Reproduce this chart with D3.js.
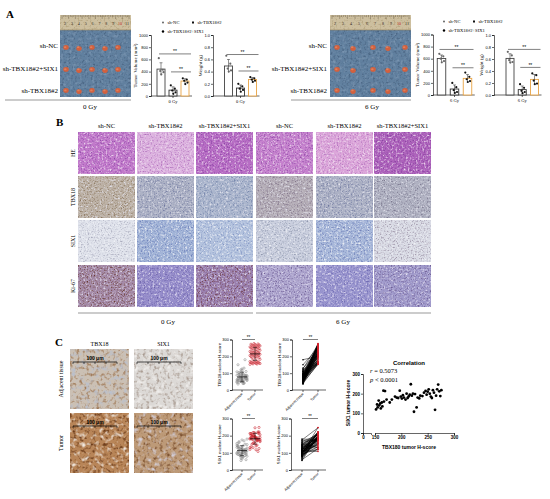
<!DOCTYPE html>
<html><head><meta charset="utf-8">
<script src="https://cdn.jsdelivr.net/npm/d3@7"></script>
<style>body{margin:0;background:#fff}svg{display:block}</style>
</head><body>
<svg id="fig" width="550" height="499"></svg>
<script>
// ---------------- DATA ----------------
const groups = ["sh-NC","sh-TBX18#2","sh-TBX18#2+SIX1"];
const doses = ["0 Gy","6 Gy"];
const volTicks = [0,200,400,600,800,1000];
const wtTicks = [0,0.2,0.4,0.6,0.8,1.0];
const vol0NC=[620,430,410,390,355], vol0KD=[175,120,90,60,35], vol0SIX=[290,270,250,220,195];
const wt0NC=[0.66,0.53,0.45,0.42,0.40], wt0KD=[0.20,0.16,0.12,0.10,0.07], wt0SIX=[0.31,0.29,0.27,0.25,0.23];
const vol6NC=[680,640,600,560,540], vol6KD=[200,130,80,50,35], vol6SIX=[370,300,260,230,215];
const wt6NC=[0.72,0.66,0.58,0.55,0.54], wt6KD=[0.18,0.12,0.07,0.05,0.03], wt6SIX=[0.36,0.33,0.24,0.19,0.18];
const rulerLabels=["2","3","4","5","6","7","8","9","10","11"];
const ihcRows=["HE","TBX18","SIX1","Ki-67"];
const ihcCols=["sh-NC","sh-TBX18#2","sh-TBX18#2+SIX1","sh-NC","sh-TBX18#2","sh-TBX18#2+SIX1"];
const cMarkers=["TBX18","SIX1"];
const tissue=["Adjacent tissue","Tumor"];
const hTicks=[0,100,200,300];
const tbx18Adj=[45,60,72,85,38,95,110,55,68,80,120,50,75,90,62,48,105,70,82,58,180,65,88,42,100,78,52,92,66,115,35,84,70,60,130,74,56,98,46,88,64,150,72,54,108,40,80,68,94,58,76,125,62,86,50];
const tbx18Tum=[152,154,155,157,158,160,161,163,164,166,167,169,172,178,182,188,191,194,197,199,201,203,205,208,210,212,214,216,218,220,222,224,226,229,231,234,236,240,243,246,248,250,252,254,256,258,260,262,264,266,268,270,272,274,276];
const six1Adj=[95,110,125,80,140,105,60,118,90,150,130,100,170,85,112,75,160,120,98,135,108,70,145,115,88,180,102,125,92,65,138,110,82,155,120,96,128,78,165,104,90,142,116,55,132,100,86,148,112,122,94,175,106,84,118];
const six1Tum=[120,145,130,165,140,150,125,155,135,215,160,213,170,155,170,185,180,178,215,185,175,192,180,170,200,178,186,195,248,190,200,108,198,130,180,176,190,188,205,214,195,210,222,200,185,178,218,205,118,190,222,246,212,188,218];
const corrXTicks=[150,200,250,300];
const corrXBreakTicks=[0];
const corrYTicks=[0,100,200,300];
const corrR="0.5073", corrP="0.0001";

// ---------------- SETUP ----------------
const SERIF="'Liberation Serif','Times New Roman',serif";
const SANS="'Liberation Sans',Arial,sans-serif";
const svg=d3.select("#fig");
svg.append("rect").attr("width",550).attr("height",499).attr("fill","#fff");
const defs=svg.append("defs");
let fid=0;
function grainFilter(freq,seed,a,b){
  const id="gf"+(fid++);
  const f=defs.append("filter").attr("id",id).attr("x",0).attr("y",0).attr("width",1).attr("height",1);
  f.append("feTurbulence").attr("type","fractalNoise").attr("baseFrequency",freq).attr("numOctaves",2).attr("seed",seed).attr("result","n");
  f.append("feColorMatrix").attr("in","n").attr("type","matrix")
   .attr("values",`0 0 0 0 0  0 0 0 0 0  0 0 0 0 0  ${-a} 0 0 0 ${b}`).attr("result","m");
  f.append("feComposite").attr("in","SourceGraphic").attr("in2","m").attr("operator","in");
  return id;
}
function photo(x,y,w,h,base,dark,light,freq,seed,strength){
  const s=strength||1;
  const g=svg.append("g");
  g.append("rect").attr("x",x).attr("y",y).attr("width",w).attr("height",h).attr("fill",base);
  g.append("rect").attr("x",x).attr("y",y).attr("width",w).attr("height",h).attr("fill",dark)
   .attr("filter",`url(#${grainFilter(freq,seed,3.2*s,1.6*s)})`);
  if(light) g.append("rect").attr("x",x).attr("y",y).attr("width",w).attr("height",h).attr("fill",light)
   .attr("filter",`url(#${grainFilter(freq*0.7,seed+11,3.0*s,1.45*s)})`);
  return g;
}
function txt(x,y,s,size,opts={}){
  const t=svg.append("text").attr("x",x).attr("y",y).text(s)
    .attr("font-size",size).attr("font-family",opts.family||SERIF)
    .attr("text-anchor",opts.anchor||"start").attr("fill",opts.fill||"#000");
  if(opts.weight) t.attr("font-weight",opts.weight);
  if(opts.style) t.attr("font-style",opts.style);
  if(opts.rotate) t.attr("transform",`rotate(${opts.rotate},${x},${y})`);
  return t;
}
function styleAxis(ga,fs,fam){
  ga.attr("font-size",fs).attr("font-family",fam||SANS);
  ga.selectAll("path,line").attr("stroke","#000").attr("stroke-width",0.6);
  ga.selectAll("text").attr("fill","#000");
}

// ---------------- PANEL A ----------------
txt(6,18,"A",11,{weight:"bold"});
function tumorPhoto(x,y,w,h,txs,seed){
  photo(x,y+15,w,h-15,"#61809f","#46607e","#7f99b4",0.45,seed,0.8);
  photo(x,y,w,15,"#cdbf9f","#a8976e",null,0.5,seed+3,0.7);
  svg.append("line").attr("x1",x).attr("x2",x+w).attr("y1",y+15).attr("y2",y+15).attr("stroke","#8a7a58").attr("stroke-width",0.6);
  const rs=d3.scaleLinear().domain([0,40]).range([x+2,x+w-2]);
  d3.range(41).forEach(i=>{
    svg.append("line").attr("x1",rs(i)).attr("x2",rs(i)).attr("y1",y).attr("y2",y+(i%4===0?4:2))
      .attr("stroke","#4a4030").attr("stroke-width",0.35);
  });
  const rl=d3.scalePoint().domain(rulerLabels).range([x+5,x+w-4]);
  rulerLabels.forEach(l=>txt(rl(l),y+9.5,l,4,{anchor:"middle",fill:l==="10"?"#c02020":"#2a2418"}));
  const rows=[{cy:y+33,r:3.3},{cy:y+55,r:2.8},{cy:y+76,r:2.3}];
  rows.forEach((row,ri)=>{
    txs.forEach((tx,i)=>{
      const k=1+((i*3+ri)%3-1)*0.18;
      svg.append("ellipse").attr("cx",tx).attr("cy",row.cy+((i%2)?1:-1)*0.6)
        .attr("rx",row.r*k).attr("ry",row.r*k*0.85).attr("fill","#d2603e");
      svg.append("ellipse").attr("cx",tx-row.r*0.25).attr("cy",row.cy-row.r*0.25)
        .attr("rx",row.r*0.45*k).attr("ry",row.r*0.35*k).attr("fill","#e0805c");
    });
  });
}
tumorPhoto(60,15,71,82,[66,79,92,105,118],2);
tumorPhoto(330,15,81,82,[337,353,373,388,405],5);
[[58,"sh-NC",48],[58,"sh-TBX18#2+SIX1",71],[58,"sh-TBX18#2",93]].forEach(d=>txt(d[0],d[2],d[1],7,{anchor:"end"}));
[[327,"sh-NC",48],[327,"sh-TBX18#2+SIX1",71],[327,"sh-TBX18#2",93]].forEach(d=>txt(d[0],d[2],d[1],7,{anchor:"end"}));
svg.append("line").attr("x1",5).attr("x2",131).attr("y1",100).attr("y2",100).attr("stroke","#999").attr("stroke-width",1);
svg.append("line").attr("x1",291).attr("x2",411).attr("y1",100).attr("y2",100).attr("stroke","#999").attr("stroke-width",1);
txt(90,109,doses[0],7,{anchor:"middle"});
txt(372,109,doses[1],7,{anchor:"middle"});

function legend(x,y){
  const pos=[[x,y],[x+30,y],[x,y+9]];
  groups.forEach((gname,i)=>{
    if(i===1) svg.append("rect").attr("x",pos[i][0]-1).attr("y",pos[i][1]-1).attr("width",2).attr("height",2).attr("fill","#111");
    else svg.append("circle").attr("cx",pos[i][0]).attr("cy",pos[i][1]).attr("r",i===0?0.9:1.2).attr("fill",i===0?"#555":"#000");
    txt(pos[i][0]+4.5,pos[i][1]+1.6,gname,4.6);
  });
}
legend(163,22.5);
legend(444,21.5);

const barStroke=["#444","#333","#e8a445"];
const jit=[-2.2,1.8,-0.8,2.5,0.3];
function barChart(cfg){
  const g=svg.append("g");
  const y=d3.scaleLinear().domain([0,cfg.max]).range([cfg.y0,cfg.y1]);
  const x=d3.scalePoint().domain(groups).range([cfg.c0,cfg.c2]);
  const ga=g.append("g").attr("transform",`translate(${cfg.ax},0)`)
    .call(d3.axisLeft(y).tickValues(cfg.ticks).tickFormat(cfg.fmt).tickSize(2).tickPadding(1));
  styleAxis(ga,4);
  g.append("line").attr("x1",cfg.ax).attr("x2",cfg.c2+cfg.bw/2+3).attr("y1",cfg.y0).attr("y2",cfg.y0)
    .attr("stroke","#000").attr("stroke-width",0.6);
  g.append("line").attr("x1",x(groups[1])).attr("x2",x(groups[1])).attr("y1",cfg.y0).attr("y2",cfg.y0+2)
    .attr("stroke","#000").attr("stroke-width",0.6);
  g.append("text").attr("x",x(groups[1])).attr("y",cfg.y0+7).attr("text-anchor","middle")
    .attr("font-size",4.5).attr("font-family",SERIF).text(cfg.xlabel);
  cfg.series.forEach((vals,i)=>{
    const m=d3.mean(vals), sd=d3.deviation(vals), cx=x(groups[i]);
    g.append("rect").attr("x",cx-cfg.bw/2).attr("y",y(m)).attr("width",cfg.bw).attr("height",cfg.y0-y(m))
      .attr("fill","#fff").attr("stroke",barStroke[i]).attr("stroke-width",0.9);
    g.append("line").attr("x1",cx).attr("x2",cx).attr("y1",y(Math.max(0,m-sd))).attr("y2",y(m+sd))
      .attr("stroke","#222").attr("stroke-width",0.5);
    g.append("line").attr("x1",cx-1.5).attr("x2",cx+1.5).attr("y1",y(m+sd)).attr("y2",y(m+sd))
      .attr("stroke","#222").attr("stroke-width",0.5);
    g.selectAll(null).data(vals).enter().append("circle")
      .attr("cx",(d,j)=>cx+jit[j]).attr("cy",d=>y(d)).attr("r",1.1)
      .attr("fill",i===0?"#666":"#111");
  });
  const yl=(cfg.y0+cfg.y1)/2;
  g.append("text").attr("transform",`translate(${cfg.ylx},${yl}) rotate(-90)`).attr("text-anchor","middle")
    .attr("font-size",5).attr("font-family",SERIF).text(cfg.ylabel);
  cfg.sig.forEach(s=>{
    const x1=x(groups[s.a])-2, x2=x(groups[s.b])+6, yy=y(s.v);
    g.append("line").attr("x1",x1).attr("x2",x2).attr("y1",yy).attr("y2",yy).attr("stroke","#000").attr("stroke-width",0.5);
    g.append("text").attr("x",(x1+x2)/2).attr("y",yy-0.8).attr("text-anchor","middle").attr("font-size",5)
      .attr("font-family",SANS).text("**");
  });
}
const fmtV=d3.format("d"), fmtW=d3.format(".1f");
barChart({ax:151,y0:96,y1:35,max:1000,ticks:volTicks,fmt:fmtV,c0:161,c2:185,bw:8,series:[vol0NC,vol0KD,vol0SIX],
  xlabel:doses[0],ylabel:"Tumor Volume (mm³)",ylx:137,sig:[{a:0,b:2,v:690},{a:1,b:2,v:395}]});
barChart({ax:213,y0:96,y1:35,max:1,ticks:wtTicks,fmt:fmtW,c0:228.5,c2:252.5,bw:8,series:[wt0NC,wt0KD,wt0SIX],
  xlabel:doses[0],ylabel:"Weight (g)",ylx:201.5,sig:[{a:0,b:2,v:0.68},{a:1,b:2,v:0.41}]});
barChart({ax:433,y0:95,y1:34.5,max:1000,ticks:volTicks,fmt:fmtV,c0:441.5,c2:467.5,bw:8.5,series:[vol6NC,vol6KD,vol6SIX],
  xlabel:doses[1],ylabel:"Tumor Volume (mm³)",ylx:419,sig:[{a:0,b:2,v:753},{a:1,b:2,v:450}]});
barChart({ax:494,y0:95,y1:35,max:1,ticks:wtTicks,fmt:fmtW,c0:510,c2:534.5,bw:8,series:[wt6NC,wt6KD,wt6SIX],
  xlabel:doses[1],ylabel:"Weight (g)",ylx:482.5,sig:[{a:0,b:2,v:0.76},{a:1,b:2,v:0.46}]});

// ---------------- PANEL B ----------------
txt(56,126,"B",11,{weight:"bold"});
const colX=[78,137,196,256,316,374], colW=57, rowY=[132,176,220,265], rowH=42;
const ihcStyle=[
  {base:["#c27acb","#dcb2df","#b86ec5","#c682ce","#dca6da","#ad62bb"],dark:["#8e4aa8","#b070bc","#8a42a4","#904ca8","#b070bc","#843c9e"],light:"#f2e2f2"},
  {base:["#bdb2a6","#adb2c5","#abb6cd","#b5aeb7","#adb2c5","#b0b2c2"],dark:["#8a7660","#7078a0","#7080a8","#7e7088","#7078a0","#7c7890"],light:"#e4e4ee"},
  {base:["#dfe2eb","#a2b4d7","#b4c3de","#c9cede","#a8b8da","#d9dbe5"],dark:["#a8aabc","#6a7cb8","#8496c4","#9098ae","#7080b8","#9a90a4"],light:"#f2f4f8"},
  {base:["#a48aa8","#968dcb","#9a80b0","#aea6cf","#9a96cf","#a09acb"],dark:["#6a3a30","#6a60a8","#6e3a40","#6e5c94","#6a66ae","#6e5c94"],light:"#e4e0f2"}
];
ihcCols.forEach((c,ci)=>txt(colX[ci]+colW/2,127.5,c,6.5,{anchor:"middle"}));
ihcRows.forEach((r,ri)=>{
  txt(75,rowY[ri]+rowH/2,r,6,{anchor:"middle",rotate:-90});
  ihcCols.forEach((c,ci)=>{
    const st=ihcStyle[ri];
    photo(colX[ci],rowY[ri],colW,rowH,st.base[ci],st.dark[ci],st.light,0.7,ri*10+ci+1,0.9);
  });
});
svg.append("line").attr("x1",78).attr("x2",253).attr("y1",313).attr("y2",313).attr("stroke","#999").attr("stroke-width",1);
svg.append("line").attr("x1",256).attr("x2",431).attr("y1",313).attr("y2",313).attr("stroke","#999").attr("stroke-width",1);
txt(168,324,doses[0],7,{anchor:"middle"});
txt(343,324,doses[1],7,{anchor:"middle"});

// ---------------- PANEL C ----------------
txt(55,346,"C",11,{weight:"bold"});
const cColX=[70,134], cColW=59, cRowY=[349,413], cRowH=60;
cMarkers.forEach((m,i)=>txt(cColX[i]+cColW/2,345.5,m,6,{anchor:"middle"}));
tissue.forEach((t,i)=>txt(63,cRowY[i]+cRowH/2,t,6,{anchor:"middle",rotate:-90}));
const cStyle=[[{b:"#cbc0b4",d:"#a07a58",l:"#b8c0d0"},{b:"#dcd9d6",d:"#a89a90",l:"#f4f2f0"}],
              [{b:"#b88558",d:"#6e3e1c",l:"#f0e8e0"},{b:"#bd9a78",d:"#7e5230",l:"#d4d0dc"}]];
tissue.forEach((t,ri)=>cMarkers.forEach((m,ci)=>{
  const s=cStyle[ri][ci];
  photo(cColX[ci],cRowY[ri],cColW,cRowH,s.b,s.d,s.l,0.3,40+ri*3+ci,0.95);
  const bx=cColX[ci]+3, by=cRowY[ri]+13, bw=44;
  svg.append("line").attr("x1",bx).attr("x2",bx+bw).attr("y1",by).attr("y2",by).attr("stroke","#000").attr("stroke-width",0.7);
  d3.range(5).forEach(k=>svg.append("line").attr("x1",bx+k*bw/4).attr("x2",bx+k*bw/4).attr("y1",by).attr("y2",by+2)
     .attr("stroke","#000").attr("stroke-width",0.6));
  txt(bx+bw/2,by-2,"100 μm",5,{anchor:"middle",family:SANS,weight:"bold"});
}));

const jitS=i=>((i*7)%11)-5;
function hChart(cfg){
  const g=svg.append("g");
  const y=d3.scaleLinear().domain([0,300]).range([cfg.y0,cfg.y1]);
  const x=d3.scalePoint().domain(tissue).range([cfg.c0,cfg.c1]);
  const ga=g.append("g").attr("transform",`translate(${cfg.ax},0)`)
    .call(d3.axisLeft(y).tickValues(hTicks).tickSize(2).tickPadding(1));
  styleAxis(ga,4);
  g.append("line").attr("x1",cfg.ax).attr("x2",cfg.c1+8).attr("y1",cfg.y0).attr("y2",cfg.y0).attr("stroke","#000").attr("stroke-width",0.6);
  tissue.forEach(t=>{
    g.append("line").attr("x1",x(t)).attr("x2",x(t)).attr("y1",cfg.y0).attr("y2",cfg.y0+2).attr("stroke","#000").attr("stroke-width",0.6);
    g.append("text").attr("transform",`translate(${x(t)+1},${cfg.y0+4}) rotate(-45)`).attr("text-anchor","end")
      .attr("font-size",3.6).attr("font-family",SANS).text(t);
  });
  if(cfg.paired){
    cfg.adj.forEach((a,i)=>{
      g.append("line").attr("x1",x(tissue[0])).attr("y1",y(a)).attr("x2",x(tissue[1])).attr("y2",y(cfg.tum[i]))
        .attr("stroke","#000").attr("stroke-width",0.5);
    });
    g.selectAll(null).data(cfg.adj).enter().append("circle").attr("cx",x(tissue[0])).attr("cy",d=>y(d)).attr("r",0.8).attr("fill","#000");
    g.selectAll(null).data(cfg.tum).enter().append("circle").attr("cx",x(tissue[1])).attr("cy",d=>y(d)).attr("r",0.8).attr("fill","#d0202a");
  } else {
    [cfg.adj,cfg.tum].forEach((vals,k)=>{
      const cx=x(tissue[k]), col=k===0?"#8a8a8a":"#c8202a";
      g.selectAll(null).data(vals).enter().append("circle").attr("cx",(d,i)=>cx+jitS(i)).attr("cy",d=>y(d))
        .attr("r",1.1).attr("fill","none").attr("stroke",col).attr("stroke-width",0.55);
      const m=d3.mean(vals), sd=d3.deviation(vals);
      g.append("line").attr("x1",cx-5).attr("x2",cx+5).attr("y1",y(m)).attr("y2",y(m)).attr("stroke","#000").attr("stroke-width",0.7);
      g.append("line").attr("x1",cx).attr("x2",cx).attr("y1",y(m-sd)).attr("y2",y(m+sd)).attr("stroke","#000").attr("stroke-width",0.5);
      [m-sd,m+sd].forEach(v=>g.append("line").attr("x1",cx-2).attr("x2",cx+2).attr("y1",y(v)).attr("y2",y(v)).attr("stroke","#000").attr("stroke-width",0.5));
    });
  }
  const sy=cfg.y1;
  g.append("line").attr("x1",cfg.c0).attr("x2",cfg.c1).attr("y1",sy).attr("y2",sy).attr("stroke","#000").attr("stroke-width",0.5);
  g.append("text").attr("x",(cfg.c0+cfg.c1)/2).attr("y",sy-0.8).attr("text-anchor","middle").attr("font-size",4.5).attr("font-family",SANS).text("**");
  g.append("text").attr("transform",`translate(${cfg.ylx},${(cfg.y0+cfg.y1)/2}) rotate(-90)`).attr("text-anchor","middle")
    .attr("font-size",4.2).attr("font-family",SANS).text(cfg.ylabel);
}
hChart({ax:232,y0:390,y1:339.5,c0:242,c1:255,adj:tbx18Adj,tum:tbx18Tum,ylabel:"TBX18 nuclear H-score",ylx:221,paired:false});
hChart({ax:292,y0:390,y1:339.5,c0:303,c1:318,adj:tbx18Adj,tum:tbx18Tum,ylabel:"TBX18 nuclear H-score",ylx:281,paired:true});
hChart({ax:232,y0:470,y1:418.5,c0:242,c1:255,adj:six1Adj,tum:six1Tum,ylabel:"SIX1 nuclear H-score",ylx:221,paired:false});
hChart({ax:291,y0:470,y1:418.5,c0:302,c1:318,adj:six1Adj,tum:six1Tum,ylabel:"SIX1 nuclear H-score",ylx:280,paired:true});

// Correlation
(function(){
  const g=svg.append("g");
  const xc=d3.scaleLinear().domain([150,300]).range([375,454]);
  const xb=d3.scaleLinear().domain([0,15]).range([363,371]);
  const yc=d3.scaleLinear().domain([0,300]).range([433,374]);
  const ya=g.append("g").attr("transform","translate(363,0)").call(d3.axisLeft(yc).tickValues(corrYTicks).tickSize(2).tickPadding(1));
  styleAxis(ya,4.5); ya.attr("font-weight","bold");
  const xa=g.append("g").attr("transform","translate(0,433)").call(d3.axisBottom(xc).tickValues(corrXTicks).tickSize(2).tickPadding(1));
  styleAxis(xa,4.5); xa.attr("font-weight","bold");
  const xa0=g.append("g").attr("transform","translate(0,433)").call(d3.axisBottom(xb).tickValues(corrXBreakTicks).tickSize(2).tickPadding(1));
  styleAxis(xa0,4.5); xa0.attr("font-weight","bold");
  g.selectAll(null).data(tbx18Tum).enter().append("circle")
    .attr("cx",d=>xc(d)).attr("cy",(d,i)=>yc(six1Tum[i])).attr("r",1.4).attr("fill","#000");
  txt(409,364.5,"Correlation",6,{anchor:"middle",family:SANS,weight:"bold"});
  const t1=svg.append("text").attr("x",370).attr("y",373).attr("font-size",6.5).attr("font-family",SERIF);
  t1.append("tspan").attr("font-style","italic").text("r");
  t1.append("tspan").text(" = "+corrR);
  const t2=svg.append("text").attr("x",370).attr("y",381.5).attr("font-size",6.5).attr("font-family",SERIF);
  t2.append("tspan").attr("font-style","italic").text("p");
  t2.append("tspan").text(" < "+corrP);
  txt(409,448.5,"TBX180 tumor H-score",5,{anchor:"middle",family:SANS,weight:"bold"});
  g.append("text").attr("transform","translate(350,403) rotate(-90)").attr("text-anchor","middle")
    .attr("font-size",5).attr("font-family",SANS).attr("font-weight","bold").text("SIX1 tumor H-score");
})();
</script>
</body></html>
